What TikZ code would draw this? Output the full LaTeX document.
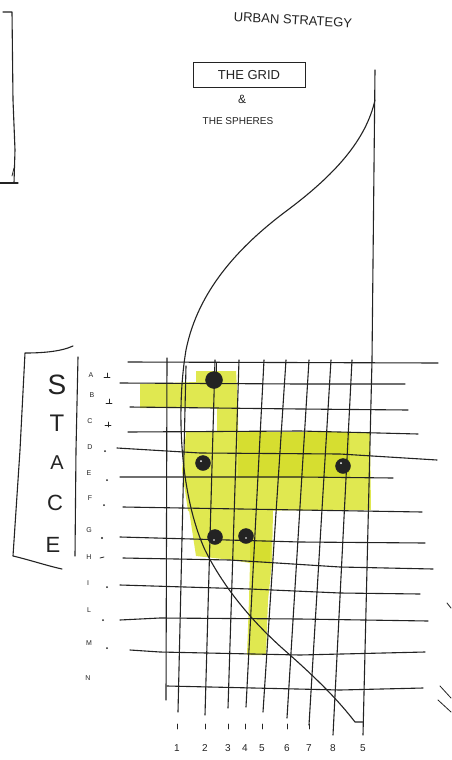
\documentclass[tikz,border=0pt]{standalone}
\usepackage{fontspec}
\setmainfont{Liberation Sans}
\definecolor{ink}{RGB}{35,35,35}
\definecolor{hl}{RGB}{224,232,80}
\definecolor{hd}{RGB}{214,222,48}
\begin{document}
\begin{tikzpicture}[x=1pt,y=-1pt,
  pen/.style={draw=ink,line width=1.1pt,line cap=round,line join=round},
  thin pen/.style={draw=ink,line width=0.8pt,line cap=round},
  dotmark/.style={circle,fill=ink,draw=ink,inner sep=0pt,minimum size=15pt},
  hand/.style={text=ink,inner sep=0pt},
  rowlab/.style={hand,font=\fontsize{7}{7}\selectfont},
  collab/.style={hand,font=\fontsize{10}{10}\selectfont}]
\useasboundingbox (0,0) rectangle (451,760);
\fill[white] (0,0) rectangle (451,760);

% ---- yellow highlights ----
\fill[hl] (140,384) -- (196,382) -- (196,371) -- (236,371) -- (238,407) -- (238,432) -- (217,432) -- (217,408) -- (140,408) -- cycle;
\fill[hl] (186,432) -- (370,432) -- (371,510) -- (188,511) -- (182,470) -- cycle;
\fill[hd] (238,432) -- (350,432) -- (350,478) -- (238,478) -- cycle;
\fill[hl] (189,510) -- (273,510) -- (272,563) -- (268,600) -- (266,655) -- (247,655) -- (249,600) -- (250,563) -- (232,560) -- (196,556) -- cycle;
\fill[hd] (250,540) -- (271,540) -- (270,563) -- (250,563) -- cycle;

% ---- top-left fragment ----
\draw[pen] (3,12) -- (12,12) -- (13,100) -- (15,150) -- (14,183);
\draw[pen] (0,183) -- (18,183);
\draw[thin pen] (12,176) -- (14,168);

% ---- title texts ----
\node[hand,font=\fontsize{13}{13}\selectfont,rotate=-3] (title) at (293,20) {URBAN STRATEGY};
\node[hand,font=\fontsize{13}{13}\selectfont,draw=ink,line width=1pt,minimum width=112pt,minimum height=25pt] (grid) at (249,75) {THE GRID};
\node[hand,font=\fontsize{12}{12}\selectfont] (amp) at (242,99) {\&};
\node[hand,font=\fontsize{10}{10}\selectfont] (sph) at (238,121) {THE SPHERES};

% ---- STACE bracket ----
\draw[pen] (73,346) .. controls (60,352) and (40,353) .. (25,353) -- (20,450) -- (13,556) .. controls (30,560) and (48,566) .. (62,569);
\draw[pen] (78,357) -- (76,450) -- (75,556);
\node[hand,font=\fontsize{28}{28}\selectfont] (S) at (57,385) {S};
\node[hand,font=\fontsize{24}{24}\selectfont] (T) at (57,423) {T};
\node[hand,font=\fontsize{20}{20}\selectfont] (A) at (57,463) {A};
\node[hand,font=\fontsize{22}{22}\selectfont] (C) at (55,503) {C};
\node[hand,font=\fontsize{22}{22}\selectfont] (E) at (53,545) {E};

% ---- row labels ----
\node[rowlab] (ra) at (91,375) {A};
\node[rowlab] (rb) at (92,395) {B};
\node[rowlab] (rc) at (90,421) {C};
\node[rowlab] (rd) at (90,447) {D};
\node[rowlab] (re) at (89,473) {E};
\node[rowlab] (rf) at (90,498) {F};
\node[rowlab] (rg) at (89,530) {G};
\node[rowlab] (rh) at (89,557) {H};
\node[rowlab] (ri) at (88,583) {I};
\node[rowlab] (rl) at (89,610) {L};
\node[rowlab] (rm) at (89,643) {M};
\node[rowlab] (rn) at (88,678) {N};
% small marks
\draw[thin pen] (107,373) -- (107,377) (104,377) -- (110,377);
\draw[thin pen] (109,399) -- (109,403) (106,403) -- (112,403);
\draw[thin pen] (108,422) -- (108,427) (105,425) -- (111,425);
\fill[ink] (105,451) circle (1pt) (107,480) circle (1pt) (104,505) circle (1pt)
  (102,538) circle (1.1pt) (107,587) circle (1pt) (103,620) circle (1pt) (107,648) circle (1pt);
\draw[thin pen] (100,558) -- (104,557);

% ---- grid horizontals ----
\draw[pen] (128,362) -- (438,363);
\draw[pen] (120,383) -- (300,384) -- (405,384);
\draw[pen] (130,407) -- (300,409) -- (408,410);
\draw[pen] (128,432) -- (300,431) -- (418,434);
\draw[pen] (117,448) -- (200,453) -- (340,454) -- (437,460);
\draw[pen] (120,477) -- (300,477) -- (393,478);
\draw[pen] (123,507) -- (300,510) -- (422,512);
\draw[pen] (120,537) -- (300,542) -- (425,543);
\draw[pen] (123,558) -- (230,560) -- (340,567) -- (433,569);
\draw[pen] (120,585) -- (250,589) -- (340,593) -- (420,594);
\draw[pen] (120,620) -- (160,618) -- (300,619) -- (428,621);
\draw[pen] (130,650) -- (160,652) -- (300,655) -- (425,652);
\draw[pen] (167,686) -- (340,690) -- (423,688);

% ---- grid verticals ----
\draw[pen] (167,358) -- (166,700);
\draw[pen] (186,366) -- (178,712);
\draw[pen] (215,360) -- (205,715);
\draw[pen] (239,360) -- (228,708);
\draw[pen] (264,360) -- (246,707);
\draw[pen] (286,360) -- (263,712);
\draw[pen] (309,360) -- (287,718);
\draw[pen] (331,360) -- (309,725);
\draw[pen] (352,360) -- (333,735);
\draw[pen] (375,70) -- (372,360) -- (363,735);

% ---- curve ----
\draw[pen] (375,100) .. controls (366,140) and (335,175) .. (285,212)
  .. controls (240,246) and (198,290) .. (186,350)
  .. controls (176,410) and (180,495) .. (205,550)
  .. controls (225,590) and (255,625) .. (290,655)
  .. controls (318,680) and (338,700) .. (355,722) -- (363,722);

% ---- dots ----
\draw[thin pen] (216,363) -- (216,372);
\node[dotmark,minimum size=17pt] (d1) at (214,380) {};
\node[dotmark] (d2) at (203,463) {};
\node[dotmark] (d3) at (343,466) {};
\node[dotmark] (d4) at (215,537) {};
\node[dotmark] (d5) at (246,536) {};
\fill[white] (201,461) circle (1pt) (341,463) circle (1pt) (214,540) circle (0.9pt) (246,538) circle (0.9pt);

% ---- bottom ticks and numbers ----
\foreach \x in {177,205,228,245,262,287,309,333} {\draw[thin pen] (\x,724) -- (\x,729);}
\node[collab] (n1) at (177,748) {1};
\node[collab] (n2) at (205,748) {2};
\node[collab] (n3) at (228,748) {3};
\node[collab] (n4) at (245,748) {4};
\node[collab] (n5) at (262,748) {5};
\node[collab] (n6) at (287,748) {6};
\node[collab] (n7) at (309,748) {7};
\node[collab] (n8) at (333,748) {8};
\node[collab] (n9) at (363,748) {5};

% ---- right edge marks ----
\draw[thin pen] (447,603) -- (451,608);
\draw[thin pen] (440,686) -- (451,698);
\draw[thin pen] (438,700) -- (451,712);
\end{tikzpicture}
\end{document}
